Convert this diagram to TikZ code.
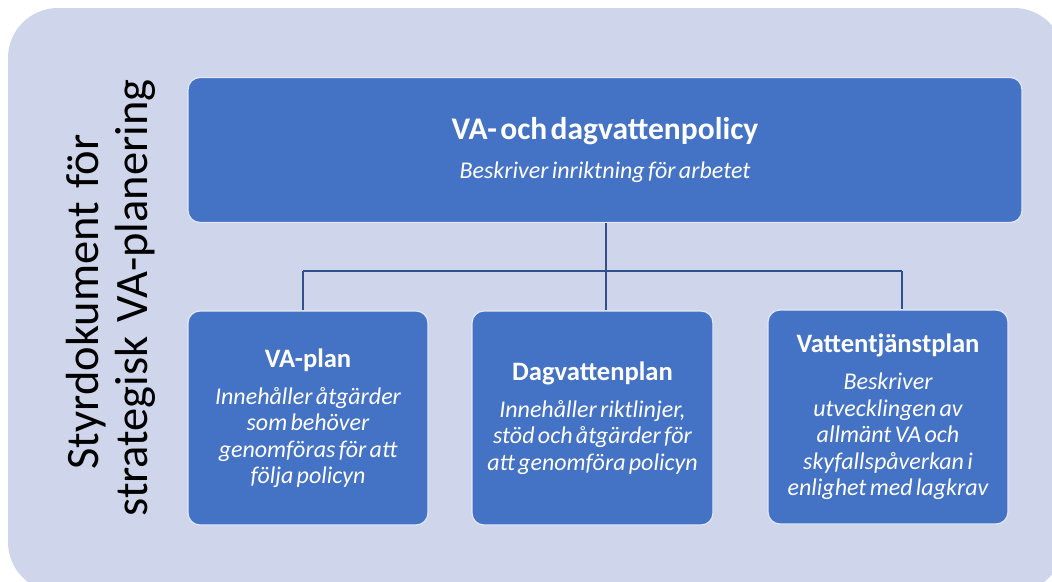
\documentclass[tikz,border=0pt]{standalone}
\usepackage{fontspec}
\setmainfont{Carlito}[WordSpace=1.3]
\definecolor{bglav}{HTML}{CFD5EA}
\definecolor{boxblue}{HTML}{4472C4}
\definecolor{connblue}{HTML}{2F528F}
\definecolor{boxedge}{HTML}{E3E8F5}
\begin{document}
\begin{tikzpicture}[x=1pt,y=-1pt,
  box/.style={draw=boxedge, line width=1.2pt, fill=boxblue, rounded corners=12pt,
    text=white, inner sep=0pt, align=center},
  smallbox/.style={box, minimum width=240pt, minimum height=214pt, text width=236pt},
  conn/.style={draw=connblue, line width=1.8pt},
  vtext/.style={font=\fontsize{46.5}{50}\selectfont, text=black, anchor=base, rotate=90, inner sep=0pt}
]
\useasboundingbox (0,0) rectangle (1052,581);
\clip (0,0) rectangle (1052,581);
\fill[white] (0,0) rectangle (1052,581);
\fill[bglav, rounded corners=50pt] (8,8) rectangle (1064,592);

\node[vtext] (v1) at (98,302) {Styrdokument för};
\node[vtext] (v2) at (147,298) {strategisk VA-planering};

\node[box, minimum width=834pt, minimum height=145pt, text width=700pt] (top) at (605,150)
  {{\fontsize{31.5}{34}\selectfont\bfseries VA- och dagvattenpolicy\par}\vspace{12pt}%
   {\fontsize{24}{26.5}\selectfont\itshape Beskriver inriktning för arbetet\par}};

\node[smallbox] (vap) at (308,418)
  {{\fontsize{26.6}{28}\selectfont\bfseries VA-plan\par}\vspace{10.5pt}%
   {\fontsize{24}{26.5}\selectfont\itshape Innehåller åtgärder\\som behöver\\genomföras för att\\följa policyn\par}};

\node[smallbox, minimum width=241pt] (dag) at (592.5,418)
  {{\fontsize{26.6}{28}\selectfont\bfseries Dagvattenplan\par}\vspace{10.5pt}%
   {\fontsize{24}{26.5}\selectfont\itshape Innehåller riktlinjer,\\stöd och åtgärder för\\att genomföra policyn\par}};

\node[smallbox] (vtp) at (888,417)
  {{\fontsize{26.6}{28}\selectfont\bfseries Vattentjänstplan\par}\vspace{10.5pt}%
   {\fontsize{24}{26.5}\selectfont\itshape Beskriver\\utvecklingen av\\allmänt VA och\\skyfallspåverkan i\\enlighet med lagkrav\par}};

\coordinate (hub) at (606,271);
\coordinate (jl) at (303,271);
\coordinate (jr) at (902,271);
\draw[conn] (top.south -| hub) -- (hub |- dag.north);
\draw[conn] (jl) -- (jr);
\draw[conn] (jl) -- (jl |- vap.north);
\draw[conn] (jr) -- (jr |- vtp.north);
\end{tikzpicture}
\end{document}
